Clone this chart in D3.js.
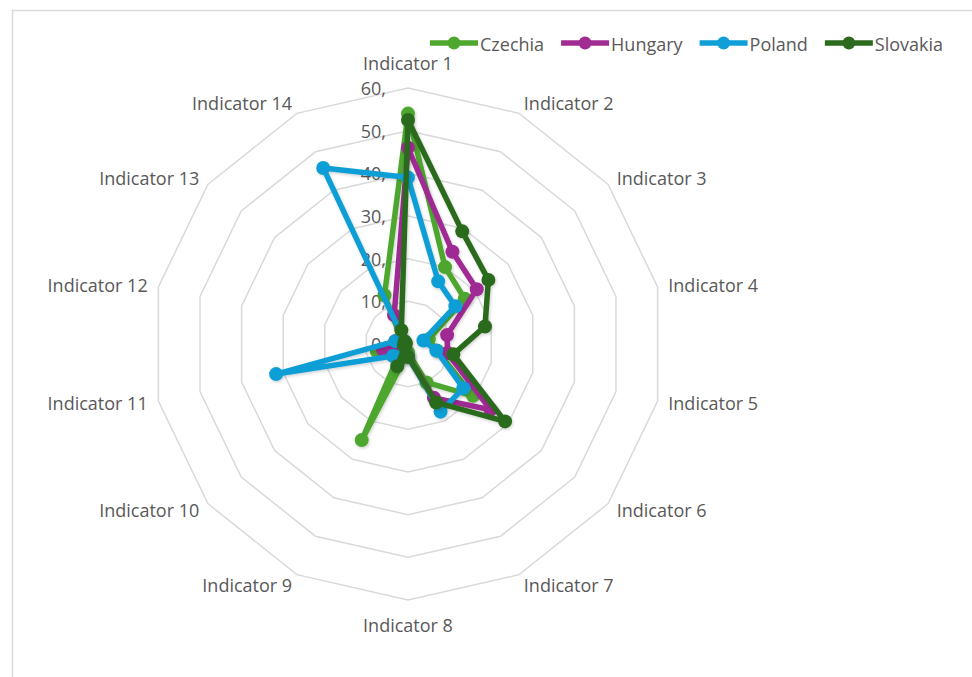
<!DOCTYPE html>
<html>
<head>
<meta charset="utf-8">
<script src="https://cdn.jsdelivr.net/npm/d3@7"></script>
<style>
  html, body { margin: 0; padding: 0; background: #fff; }
  svg { display: block; }
  text { font-family: "Open Sans", "Liberation Sans", sans-serif; fill: #595959; }
</style>
</head>
<body>
<svg id="chart" width="972" height="677"></svg>
<script>
const categories = ["Indicator 1","Indicator 2","Indicator 3","Indicator 4","Indicator 5","Indicator 6","Indicator 7",
                    "Indicator 8","Indicator 9","Indicator 10","Indicator 11","Indicator 12","Indicator 13","Indicator 14"];
const seriesNames = ["Czechia", "Hungary", "Poland", "Slovakia"];
const czechia  = [54, 20, 17, 5, 7, 19.5, 10, 2, 25, 2, 7.5, 3, 2, 12.7];
const hungary  = [46, 24, 20.6, 9.4, 9.5, 24.7, 14, 3, 2, 2, 6, 3, 2, 7.5];
const poland   = [39, 16.3, 14.2, 3.7, 6.8, 16.6, 17.6, 3, 2, 4.5, 31.7, 3, 1, 45.8];
const slovakia = [52.5, 29.3, 24.1, 18.5, 10.9, 29.1, 15.2, 3, 5.8, 1, 1, 0.5, 1, 3.6];
const tickValues = [0, 10, 20, 30, 40, 50, 60];
const tickLabels = ["0,", "10,", "20,", "30,", "40,", "50,", "60,"];
const colors = ["#4EA72E", "#A02B93", "#0F9ED5", "#2C6B1E"];

const svg = d3.select("#chart");
const W = 972, H = 677;
const cx = 408, cy = 344, R = 256;
const FS = 18;

const defs = svg.append("defs");
const f = defs.append("filter").attr("id", "shadow").attr("x", "-20%").attr("y", "-20%").attr("width", "140%").attr("height", "140%");
f.append("feDropShadow").attr("dx", 1).attr("dy", 1.5).attr("stdDeviation", 1.5)
  .attr("flood-color", "#000").attr("flood-opacity", 0.18);

// chart area border
svg.append("rect").attr("x", 12.5).attr("y", 10.5).attr("width", W + 20).attr("height", H + 20)
  .attr("fill", "none").attr("stroke", "#d9d9d9").attr("stroke-width", 1.5);

const g = svg.append("g").attr("transform", `translate(${cx},${cy})`);
const rScale = d3.scaleLinear().domain([0, 60]).range([0, R]);
const n = categories.length;
const angle = d3.scaleLinear().domain([0, n]).range([0, 2 * Math.PI]);

// grid rings
const ring = d3.lineRadial().curve(d3.curveLinearClosed)
  .angle((d, i) => angle(i)).radius(d => rScale(d));
tickValues.filter(v => v > 0).forEach(v => {
  g.append("path").attr("d", ring(categories.map(() => v)))
    .attr("fill", "none").attr("stroke", "#d9d9d9").attr("stroke-width", 1.5);
});

// category labels
categories.forEach((c, i) => {
  const a = angle(i), s = Math.sin(a), co = Math.cos(a);
  const rl = R + 11;
  let x = rl * s, y = -rl * co;
  let anchor = "middle";
  if (s > 0.01) anchor = "start"; else if (s < -0.01) anchor = "end";
  else y += -co * 14;
  g.append("text").attr("x", x).attr("y", y).attr("text-anchor", anchor)
    .attr("dominant-baseline", "central").attr("font-size", FS).text(c);
});

// tick labels
tickValues.forEach((v, i) => {
  g.append("text").attr("x", -22).attr("y", -rScale(v)).attr("text-anchor", "end")
    .attr("dominant-baseline", "central").attr("font-size", FS).text(tickLabels[i]);
});

// series
const data = [czechia, hungary, poland, slovakia];
const line = d3.lineRadial().curve(d3.curveLinearClosed)
  .angle((d, i) => angle(i)).radius(d => rScale(d));
data.forEach((vals, si) => {
  const sg = g.append("g").attr("filter", "url(#shadow)");
  sg.append("path").attr("d", line(vals)).attr("fill", "none")
    .attr("stroke", colors[si]).attr("stroke-width", 5.5).attr("stroke-linejoin", "round");
  sg.selectAll(null).data(vals).enter().append("circle")
    .attr("cx", (d, i) => rScale(d) * Math.sin(angle(i)))
    .attr("cy", (d, i) => -rScale(d) * Math.cos(angle(i)))
    .attr("r", 7).attr("fill", colors[si]);
});

// legend
const leg = svg.append("g");
let lx = 430;
const ly = 43;
seriesNames.forEach((name, i) => {
  leg.append("line").attr("x1", lx).attr("x2", lx + 48).attr("y1", ly).attr("y2", ly)
    .attr("stroke", colors[i]).attr("stroke-width", 5.5);
  leg.append("circle").attr("cx", lx + 24).attr("cy", ly).attr("r", 6.5).attr("fill", colors[i]);
  const t = leg.append("text").attr("x", lx + 50).attr("y", ly + 1).attr("dominant-baseline", "central")
    .attr("font-size", FS).text(name);
  lx += 50 + t.node().getComputedTextLength() + 17;
});
</script>
</body>
</html>
